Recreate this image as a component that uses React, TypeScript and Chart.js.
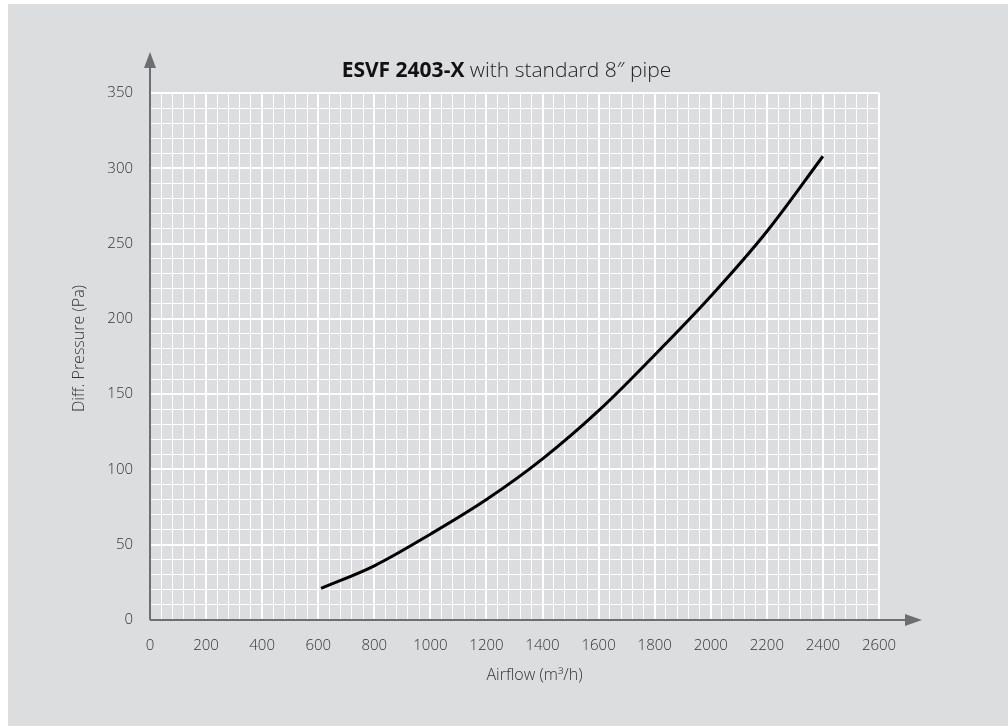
import React, { useEffect, useRef } from "react";
import { Chart, registerables } from "chart.js";

Chart.register(...registerables);

// ---- data ----
const airflow = [610, 800, 1000, 1200, 1400, 1600, 1800, 2000, 2200, 2400];
const pressure = [21, 36, 57, 80, 107, 139, 176, 215, 258, 308];

const xMin = 0;
const xMax = 2600;
const xMajor = 200;
const xMinor = 40;
const yMin = 0;
const yMax = 350;
const yMajor = 50;
const yMinor = 10;

const titleBold = "ESVF 2403-X";
const titleRest = " with standard 8\u2033 pipe";
const xTitle = "Airflow (m\u00b3/h)";
const yTitle = "Diff. Pressure (Pa)";

const FONT = "'Open Sans', 'DejaVu Sans', sans-serif";
const AXIS_COLOR = "#6d6e71";
const TEXT_COLOR = "#333335";
const BG = "#dcdddf";

const W = 1000;
const H = 722;

const decorPlugin = {
  id: "decor",
  afterDraw(chart: any) {
    const ctx = chart.ctx as CanvasRenderingContext2D;
    const a = chart.chartArea;
    ctx.save();
    // axes lines
    ctx.strokeStyle = AXIS_COLOR;
    ctx.fillStyle = AXIS_COLOR;
    ctx.lineWidth = 2;
    ctx.beginPath();
    ctx.moveTo(a.left, a.bottom);
    ctx.lineTo(a.left, a.top - 26);
    ctx.moveTo(a.left, a.bottom);
    ctx.lineTo(a.right + 27, a.bottom);
    ctx.stroke();
    // y arrow
    ctx.beginPath();
    ctx.moveTo(a.left, a.top - 41);
    ctx.lineTo(a.left - 6, a.top - 25);
    ctx.lineTo(a.left + 6, a.top - 25);
    ctx.closePath();
    ctx.fill();
    // x arrow
    ctx.beginPath();
    ctx.moveTo(a.right + 43, a.bottom);
    ctx.lineTo(a.right + 26, a.bottom - 6);
    ctx.lineTo(a.right + 26, a.bottom + 6);
    ctx.closePath();
    ctx.fill();

    // title
    const cx = (a.left + a.right) / 2 - 8;
    ctx.textBaseline = "alphabetic";
    ctx.font = `bold 21px ${FONT}`;
    const wb = ctx.measureText(titleBold).width;
    ctx.font = `300 21px ${FONT}`;
    const wr = ctx.measureText(titleRest).width;
    const x0 = cx - (wb + wr) / 2;
    const ty = a.top - 16;
    ctx.fillStyle = "#111";
    ctx.font = `bold 21px ${FONT}`;
    ctx.textAlign = "left";
    ctx.fillText(titleBold, x0, ty);
    ctx.fillStyle = "#222";
    ctx.font = `300 21px ${FONT}`;
    ctx.fillText(titleRest, x0 + wb, ty);

    // x axis title
    ctx.fillStyle = TEXT_COLOR;
    ctx.font = `300 16px ${FONT}`;
    ctx.textAlign = "center";
    ctx.textBaseline = "middle";
    ctx.fillText(xTitle, (a.left + a.right) / 2 + 20, a.bottom + 55);

    // y axis title
    ctx.save();
    ctx.translate(71, (a.top + a.bottom) / 2 - 8);
    ctx.rotate(-Math.PI / 2);
    ctx.fillText(yTitle, 0, 0);
    ctx.restore();

    ctx.restore();
  },
};

export default function App() {
  const ref = useRef<HTMLCanvasElement | null>(null);

  useEffect(() => {
    if (!ref.current) return;
    const points = airflow.map((x, i) => ({ x, y: pressure[i] }));
    const chart = new Chart(ref.current, {
      type: "scatter",
      data: {
        datasets: [
          {
            data: points,
            showLine: true,
            borderColor: "#000",
            borderWidth: 3,
            pointRadius: 0,
            pointHoverRadius: 0,
            tension: 0.35,
            fill: false,
          },
        ],
      },
      options: {
        animation: false,
        responsive: false,
        devicePixelRatio: 1,
        events: [],
        layout: { padding: { left: 0, top: 89, right: 129, bottom: 66 } },
        plugins: {
          legend: { display: false },
          title: { display: false },
          tooltip: { enabled: false },
        },
        scales: {
          x: {
            type: "linear",
            min: xMin,
            max: xMax,
            afterFit: (s: any) => {
              s.height = 40;
            },
            border: { display: false },
            grid: {
              color: "#ffffff",
              lineWidth: (c: any) =>
                Math.round(c.tick.value) % xMajor === 0 ? 2 : 1,
              drawTicks: false,
            },
            ticks: {
              stepSize: xMinor,
              autoSkip: false,
              maxRotation: 0,
              padding: 17,
              color: TEXT_COLOR,
              font: { family: FONT, size: 15, weight: "300" },
              callback: (v: any) =>
                Math.round(v) % xMajor === 0 ? String(Math.round(v)) : "",
            },
          },
          y: {
            type: "linear",
            min: yMin,
            max: yMax,
            afterFit: (s: any) => {
              s.width = 142;
            },
            border: { display: false },
            grid: {
              color: "#ffffff",
              lineWidth: (c: any) =>
                Math.round(c.tick.value) % yMajor === 0 ? 2 : 1,
              drawTicks: false,
            },
            ticks: {
              stepSize: yMinor,
              autoSkip: false,
              padding: 17,
              color: TEXT_COLOR,
              font: { family: FONT, size: 15, weight: "300" },
              callback: (v: any) =>
                Math.round(v) % yMajor === 0 ? String(Math.round(v)) : "",
            },
          },
        },
      },
      plugins: [decorPlugin],
    });
    return () => chart.destroy();
  }, []);

  return (
    <div
      style={{
        position: "absolute",
        left: 8,
        top: 4,
        width: W,
        height: H,
        background: BG,
      }}
    >
      <canvas ref={ref} width={W} height={H} style={{ display: "block" }} />
    </div>
  );
}
